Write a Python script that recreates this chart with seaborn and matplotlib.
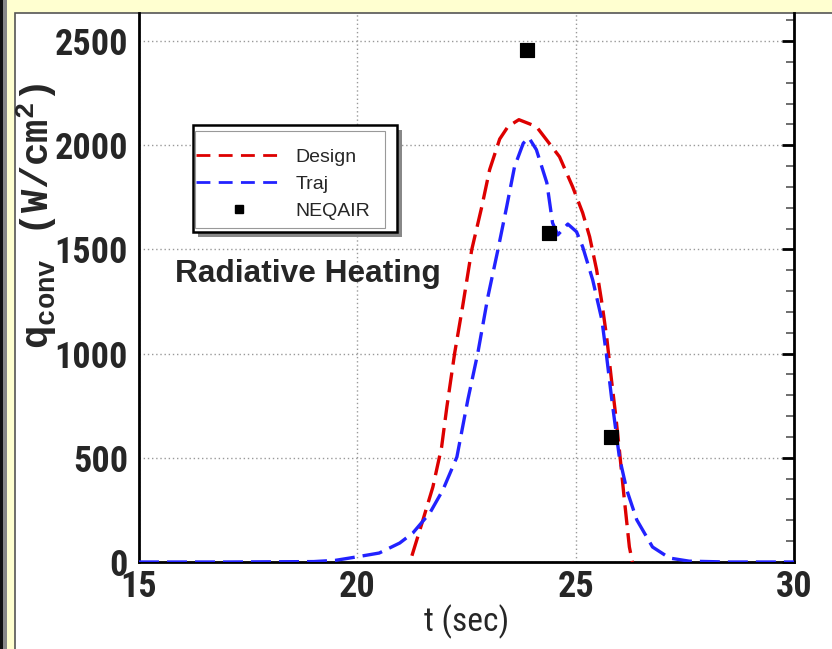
import matplotlib
matplotlib.use("Agg")
import matplotlib.pyplot as plt
from matplotlib import font_manager
from matplotlib.patches import Rectangle
from matplotlib.lines import Line2D
from matplotlib.ticker import MultipleLocator
import pandas as pd
import seaborn as sns

# Design curve (red dashed)
design_t = [21.25, 21.5, 21.73, 21.93, 22.05, 22.23, 22.41, 22.62, 22.85, 23.03,
            23.26, 23.45, 23.7, 24.1, 24.63, 24.93, 25.16, 25.32, 25.48, 25.6,
            25.71, 25.82, 25.91, 26.0, 26.1, 26.23, 26.3]
design_q = [30, 200, 360, 552, 744, 1004, 1225, 1499, 1705, 1883,
            2030, 2090, 2123, 2090, 1945, 1801, 1676, 1561, 1402, 1244,
            1080, 874, 716, 540, 330, 72, 0]

# Traj curve (blue dashed)
traj_t = [15.0, 17.0, 19.0, 19.5, 20.0, 20.5, 20.97, 21.27, 21.66, 21.96, 22.28, 22.53,
          22.76, 22.99, 23.22, 23.42, 23.6, 23.8, 23.93, 24.1, 24.34, 24.47, 24.59,
          24.7, 24.82, 25.02, 25.16, 25.39, 25.6, 25.71, 25.82, 26.0, 26.17, 26.4,
          26.76, 27.15, 27.6, 28.5, 30.0]
traj_q = [0, 0, 2, 8, 25, 43, 91, 139, 235, 346, 504, 778,
          1004, 1273, 1499, 1705, 1897, 2010, 2036, 1979, 1820, 1628, 1570,
          1595, 1622, 1585, 1513, 1354, 1162, 985, 792, 504, 346, 202,
          72, 19, 4, 0, 0]

# NEQAIR points
neqair_t = [23.88, 24.38, 25.8]
neqair_q = [2459, 1578, 602]

sns.set_style("white")

# pick a narrow font for the axis numbers if one is installed
installed = {f.name for f in font_manager.fontManager.ttflist}
narrow = "DejaVu Sans"
for cand in ["Liberation Sans Narrow", "Roboto Condensed", "DejaVu Sans Condensed",
             "Open Sans Condensed"]:
    if cand in installed:
        narrow = cand
        break
plt.rcParams["font.family"] = [narrow, "DejaVu Sans"]
plt.rcParams["mathtext.fontset"] = "custom"
plt.rcParams["mathtext.rm"] = "Liberation Mono:bold"
plt.rcParams["mathtext.bf"] = "Liberation Mono:bold"

W, H = 832, 649
fig = plt.figure(figsize=(8.32, 6.49), dpi=100, facecolor="#ffffd0")


def px_rect(x0, y0, x1, y1, **kw):
    # rectangle given in picture pixels (top-left origin)
    fig.patches.append(Rectangle((x0 / W, 1 - y1 / H), (x1 - x0) / W, (y1 - y0) / H,
                                 transform=fig.transFigure, **kw))


# white panel and left frame strips
px_rect(15, 13, 840, 660, facecolor="white", edgecolor="#555555", lw=1.2, zorder=-5)
px_rect(0, 0, 7, H, facecolor="#888888", edgecolor="none", zorder=-5)
px_rect(0, 0, 2.5, H, facecolor="#111111", edgecolor="none", zorder=-5)

ax = fig.add_axes([139 / W, 1 - 562 / H, (794 - 139) / W, (562 - 13) / H])
ax.set_facecolor("none")

design = pd.DataFrame({"t": design_t, "q": design_q})
traj = pd.DataFrame({"t": traj_t, "q": traj_q})
neq = pd.DataFrame({"t": neqair_t, "q": neqair_q})

dash = (0, (6, 2.4))
sns.lineplot(data=design, x="t", y="q", ax=ax, color="#dd0000", lw=2.4,
             linestyle=dash, zorder=3)
sns.lineplot(data=traj, x="t", y="q", ax=ax, color="#2222ff", lw=2.4,
             linestyle=dash, zorder=3)
sns.scatterplot(data=neq, x="t", y="q", ax=ax, marker="s", s=110, color="black",
                edgecolor="black", zorder=4)

ax.set_xlim(15, 30)
ax.set_ylim(0, 2635)
ax.xaxis.set_major_locator(MultipleLocator(5))
ax.xaxis.set_minor_locator(MultipleLocator(1))
ax.yaxis.set_major_locator(MultipleLocator(500))
ax.yaxis.set_minor_locator(MultipleLocator(100))
ax.grid(True, which="major", color="#999999", linestyle=(0, (1, 2)), lw=1)

for side in ["left", "bottom", "right"]:
    ax.spines[side].set_visible(True)
    ax.spines[side].set_color("black")
    ax.spines[side].set_linewidth(2)
ax.spines["top"].set_visible(False)

ax.tick_params(axis="both", which="major", direction="in", length=9, width=2,
               labelsize=26, color="black", right=True, top=False)
ax.tick_params(axis="both", which="minor", direction="in", length=6, width=1.2,
               color="#555555", right=True, top=False)
ax.tick_params(axis="x", pad=5)
ax.tick_params(axis="y", pad=8)
for lab in ax.get_xticklabels() + ax.get_yticklabels():
    lab.set_fontweight("bold")

ax.set_xlabel("t (sec)", fontsize=24, labelpad=0)
ax.set_ylabel("")
fig.text(37 / W, 1 - 216 / H, r"q$_{\mathbf{conv}}$ (W/cm$^{\mathbf{2}}$)", rotation=90,
         fontsize=28, family="Liberation Mono", fontweight="bold",
         ha="center", va="center")

fig.text(175 / W, 1 - 274 / H, "Radiative Heating", fontsize=22.8, fontweight="bold",
         family=["Liberation Sans", "DejaVu Sans"], ha="left", va="center")

# legend box: shadow, outer black frame, inner frame
px_rect(198, 130, 402, 237, facecolor="#888888", edgecolor="none", zorder=5)
px_rect(193, 125, 397, 232, facecolor="white", edgecolor="black", lw=1.8, zorder=5)
px_rect(195, 131, 385, 228, facecolor="white", edgecolor="#999999", lw=0.8, zorder=5)
fig.lines.append(Line2D([195 / W, 385 / W], [1 - 228 / H, 1 - 228 / H],
                        transform=fig.transFigure, color="black", lw=2.5, zorder=5))

handles = [
    Line2D([], [], color="#dd0000", lw=2, linestyle=(0, (5, 3))),
    Line2D([], [], color="#2222ff", lw=2, linestyle=(0, (5, 3))),
    Line2D([], [], color="black", marker="s", linestyle="none", markersize=6),
]
leg = fig.legend(handles, ["Design", "Traj", "NEQAIR"], loc="upper left",
                 bbox_to_anchor=(196 / W, 1 - 148 / H),
                 frameon=False, borderpad=0, handlelength=4.4, labelspacing=0.48,
                 handletextpad=0.7, borderaxespad=0,
                 prop={"family": ["Liberation Sans", "DejaVu Sans"], "size": 14})
leg.set_zorder(6)

fig.savefig("out.png", dpi=100, facecolor=fig.get_facecolor())
